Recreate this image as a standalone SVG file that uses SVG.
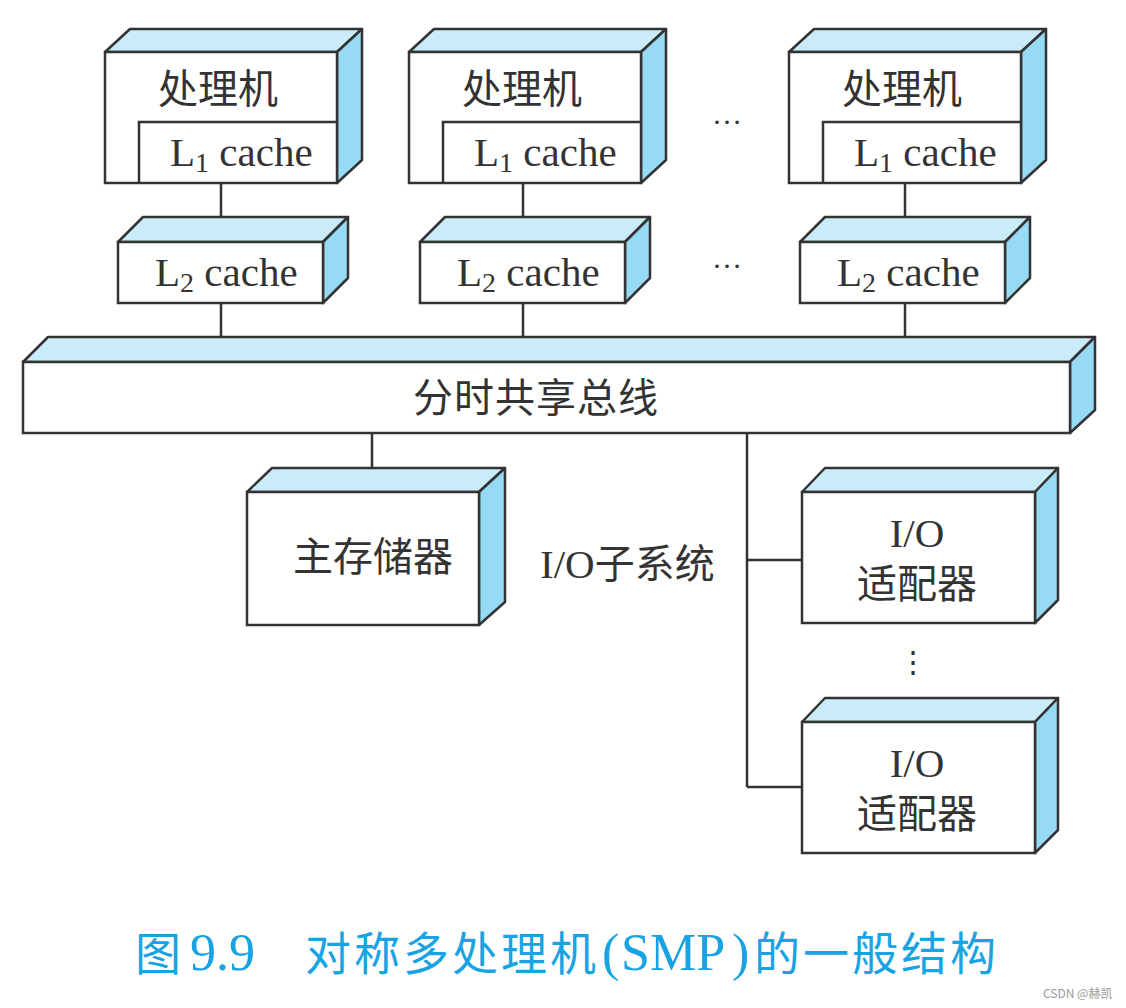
<svg xmlns="http://www.w3.org/2000/svg" width="1126" height="1008" viewBox="0 0 1126 1008">
<style>
.top{fill:#c9ecf8;stroke:#333;stroke-width:2.5;stroke-linejoin:round}
.side{fill:#97daf5;stroke:#333;stroke-width:2.5;stroke-linejoin:round}
.front{fill:#fff;stroke:#333;stroke-width:2.5}
.ln{fill:none;stroke:#333;stroke-width:2.5}
.cjk{font-family:"Noto Sans CJK SC","Noto Sans",sans-serif;font-size:40px;fill:#333}
.ser{font-family:"Liberation Serif","Noto Sans CJK SC",serif;font-size:41px;fill:#333}
.dots{font-family:"Liberation Serif",serif;font-size:30px;fill:#333}
.cap{font-family:"Noto Sans CJK SC",sans-serif;font-size:46px;fill:#1aa3e3;letter-spacing:3px}
.capn{font-family:"Liberation Serif",serif;font-size:52px;fill:#1aa3e3}
</style>
<rect width="1126" height="1008" fill="#fff"/>
<g id="connectors">
<path class="ln" d="M221,183V232M221,303V351M523,183V232M523,303V351M905,183V232M905,303V351"/>
<path class="ln" d="M372,433V481M747,433V787M747,560H802M747,787H802"/>
</g>
<g id="cpu1" transform="translate(105,52)">
<polygon class="top" points="0,0 25,-23 257,-23 232,0"/>
<polygon class="side" points="232,0 257,-23 257,108 232,131"/>
<rect class="front" x="0" y="0" width="232" height="131"/>
<path class="ln" d="M34,131V70H232"/>
<text class="cjk" x="113" y="51" text-anchor="middle">处理机</text>
<text class="ser" x="65" y="114">L<tspan font-size="28" dy="6">1</tspan><tspan dy="-6"> cache</tspan></text>
</g>
<g id="cpu2" transform="translate(409,52)">
<polygon class="top" points="0,0 25,-23 257,-23 232,0"/>
<polygon class="side" points="232,0 257,-23 257,108 232,131"/>
<rect class="front" x="0" y="0" width="232" height="131"/>
<path class="ln" d="M34,131V70H232"/>
<text class="cjk" x="113" y="51" text-anchor="middle">处理机</text>
<text class="ser" x="65" y="114">L<tspan font-size="28" dy="6">1</tspan><tspan dy="-6"> cache</tspan></text>
</g>
<g id="cpu3" transform="translate(789,52)">
<polygon class="top" points="0,0 25,-23 257,-23 232,0"/>
<polygon class="side" points="232,0 257,-23 257,108 232,131"/>
<rect class="front" x="0" y="0" width="232" height="131"/>
<path class="ln" d="M34,131V70H232"/>
<text class="cjk" x="113" y="51" text-anchor="middle">处理机</text>
<text class="ser" x="65" y="114">L<tspan font-size="28" dy="6">1</tspan><tspan dy="-6"> cache</tspan></text>
</g>
<g id="l2a" transform="translate(118,242)">
<polygon class="top" points="0,0 25,-25 230,-25 205,0"/>
<polygon class="side" points="205,0 230,-25 230,36 205,61"/>
<rect class="front" x="0" y="0" width="205" height="61"/>
<text class="ser" x="37" y="44">L<tspan font-size="28" dy="6">2</tspan><tspan dy="-6"> cache</tspan></text>
</g>
<g id="l2b" transform="translate(420,242)">
<polygon class="top" points="0,0 25,-25 230,-25 205,0"/>
<polygon class="side" points="205,0 230,-25 230,36 205,61"/>
<rect class="front" x="0" y="0" width="205" height="61"/>
<text class="ser" x="37" y="44">L<tspan font-size="28" dy="6">2</tspan><tspan dy="-6"> cache</tspan></text>
</g>
<g id="l2c" transform="translate(800,242)">
<polygon class="top" points="0,0 25,-25 230,-25 205,0"/>
<polygon class="side" points="205,0 230,-25 230,36 205,61"/>
<rect class="front" x="0" y="0" width="205" height="61"/>
<text class="ser" x="37" y="44">L<tspan font-size="28" dy="6">2</tspan><tspan dy="-6"> cache</tspan></text>
</g>
<g id="bus">
<polygon class="top" points="23,362 48,337 1095,337 1070,362"/>
<polygon class="side" points="1070,362 1095,337 1095,410 1070,433"/>
<rect class="front" x="23" y="362" width="1047" height="71"/>
<text class="cjk" x="536" y="412" text-anchor="middle" letter-spacing="1">分时共享总线</text>
</g>
<g id="memory">
<polygon class="top" points="247,492 272,468 505,468 479,492"/>
<polygon class="side" points="479,492 505,468 505,602 479,625"/>
<rect class="front" x="247" y="492" width="232" height="133"/>
<text class="cjk" x="373" y="571" text-anchor="middle">主存储器</text>
</g>
<g id="io1">
<polygon class="top" points="802,492 825,468 1058,468 1035,492"/>
<polygon class="side" points="1035,492 1058,468 1058,600 1035,623"/>
<rect class="front" x="802" y="492" width="233" height="131"/>
<text class="ser" x="917" y="547" text-anchor="middle">I/O</text>
<text class="cjk" x="917" y="598" text-anchor="middle">适配器</text>
</g>
<g id="io2">
<polygon class="top" points="802,722 825,698 1058,698 1035,722"/>
<polygon class="side" points="1035,722 1058,698 1058,830 1035,853"/>
<rect class="front" x="802" y="722" width="233" height="131"/>
<text class="ser" x="917" y="777" text-anchor="middle">I/O</text>
<text class="cjk" x="917" y="828" text-anchor="middle">适配器</text>
</g>
<text class="ser" x="540" y="578">I/O<tspan font-family="Noto Sans CJK SC,sans-serif" font-size="40">子系统</tspan></text>
<text class="dots" x="727" y="124" text-anchor="middle">…</text>
<text class="dots" x="727" y="268" text-anchor="middle">…</text>
<text class="dots" x="913" y="672" text-anchor="middle">⋮</text>
<g id="caption">
<text class="cap" x="135" y="970">图</text>
<text class="capn" x="190" y="970">9.9</text>
<text class="cap" x="305" y="970">对称多处理机</text>
<text class="capn" x="602" y="970">(</text>
<text class="capn" x="621" y="970">SMP</text>
<text class="capn" x="732" y="970">)</text>
<text class="cap" x="754" y="970">的一般结构</text>
</g>
<text x="1043" y="998" font-family="Noto Sans CJK SC,sans-serif" font-size="12" fill="#999">CSDN @赫凯</text>
</svg>
